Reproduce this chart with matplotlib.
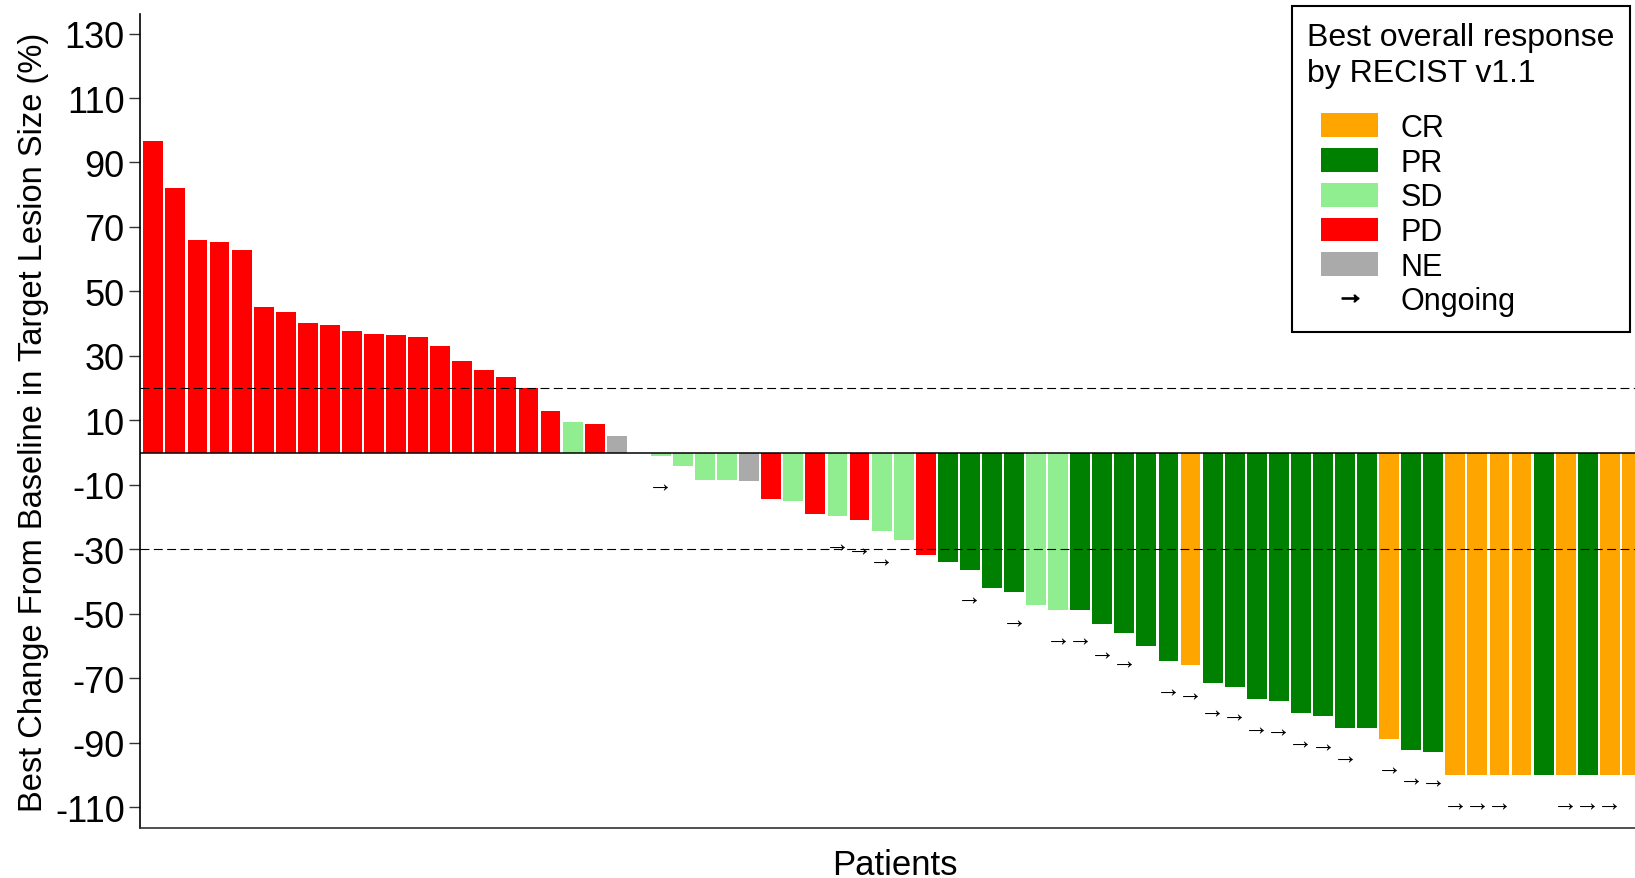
import matplotlib.pyplot as plt
from matplotlib.patches import Patch
from matplotlib.lines import Line2D
from matplotlib.offsetbox import DrawingArea

plt.rcParams['font.family'] = ['Liberation Sans', 'DejaVu Sans']
plt.rcParams['axes.unicode_minus'] = False
plt.rcParams['mathtext.fontset'] = 'custom'
plt.rcParams['mathtext.rm'] = 'Liberation Sans'
plt.rcParams['mathtext.default'] = 'rm'

# best % change per patient, sorted as in the waterfall
change = [96.6, 82.1, 66.0, 65.3, 63.0, 45.1, 43.6, 40.2, 39.5, 37.6, 36.8,
          36.5, 35.7, 33.1, 28.3, 25.7, 23.5, 20.0, 12.9, 9.5, 8.9, 5.1, 0.0,
          -1.0, -4.3, -8.5, -8.5, -8.8, -14.4, -15.0, -19.2, -19.7, -21.0,
          -24.3, -27.0, -31.8, -33.9, -36.3, -42.0, -43.3, -47.3, -48.8,
          -48.8, -53.2, -56.0, -60.0, -64.7, -65.9, -71.4, -72.6, -76.6,
          -77.2, -80.8, -81.8, -85.5, -85.5, -88.9, -92.2, -92.9,
          -100, -100, -100, -100, -100, -100, -100, -100, -100]

response = (["PD"] * 19 + ["SD", "PD", "NE", "SD",
            "SD", "SD", "SD", "SD", "NE", "PD", "SD", "PD", "SD", "PD",
            "SD", "SD", "PD", "PR", "PR", "PR", "PR", "SD", "SD", "PR",
            "PR", "PR", "PR", "PR", "CR"] + ["PR"] * 8 +
            ["CR", "PR", "PR", "CR", "CR", "CR", "CR", "PR", "CR", "PR",
             "CR", "CR"])

# patients (1-based position) still on treatment
ongoing = [24, 32, 33, 34, 38, 40, 42, 43, 44, 45, 47, 48, 49, 50, 51, 52,
           53, 54, 55, 57, 58, 59, 60, 61, 62, 65, 66, 67]

categories = ["CR", "PR", "SD", "PD", "NE"]
colors = {"CR": "#FFA500", "PR": "#008000", "SD": "#90EE90",
          "PD": "#FF0000", "NE": "#AAAAAA"}

patients = list(range(1, len(change) + 1))

fig = plt.figure(figsize=(16.35, 8.79), dpi=100)
ax = fig.add_axes([140 / 1635, 1 - 829.3 / 879,
                   (1650 - 140) / 1635, (829.3 - 14.6) / 879])

ax.bar(patients, change, width=0.9,
       color=[colors[r] for r in response], linewidth=0)

for p in ongoing:
    ax.text(p, change[p - 1] - 8.5, "\u2192", ha="center", va="center",
            fontsize=18, color="black")

ax.axhline(0, color="black", lw=1.1)
ax.axhline(20, color="black", lw=0.8, ls=(0, (8, 4)))
ax.axhline(-30, color="black", lw=0.8, ls=(0, (8, 4)))

ax.set_xlim(0.397, 68.82)
ax.set_ylim(-116.6, 136.2)
ax.set_yticks(range(-110, 131, 20))
ax.set_xticks([])
ax.tick_params(axis="y", labelsize=26, length=8, width=1, color="#333333",
               pad=3)
for s in ["top", "right"]:
    ax.spines[s].set_visible(False)
ax.spines["left"].set_linewidth(1.2)
ax.spines["bottom"].set_linewidth(1.2)
ax.spines["bottom"].set_color("#333333")

ax.set_xlabel("Patients", fontsize=25, labelpad=14)
ax.set_ylabel("Best Change From Baseline in Target Lesion Size (%)",
              fontsize=23.5, labelpad=4)

handles = [Patch(facecolor=colors[c], edgecolor="none") for c in categories]
handles.append(Line2D([], [], marker="$\u2192$", ls="none",
                      color="black", markersize=12))
labels = categories + ["Ongoing"]
leg = ax.legend(handles, labels, title="Best overall response\nby RECIST v1.1",
                loc="upper left", bbox_to_anchor=(1292 / 1635, 1 - 7.3 / 879),
                bbox_transform=fig.transFigure, frameon=True, fancybox=False,
                edgecolor="black", framealpha=1, fontsize=22,
                title_fontsize=23, alignment="left", handlelength=1.86,
                handleheight=0.82, handletextpad=0.75, labelspacing=0.155,
                borderpad=0.5, borderaxespad=0)
leg.get_frame().set_linewidth(1.5)
leg.get_title().set_linespacing(1.3)
# gap under the title and a small indent for the entries
leg._legend_box.sep = 17.5
leg._legend_handle_box.sep = 0
leg._legend_handle_box._children.insert(0, DrawingArea(10, 1))

fig.savefig("out.png", dpi=100)
